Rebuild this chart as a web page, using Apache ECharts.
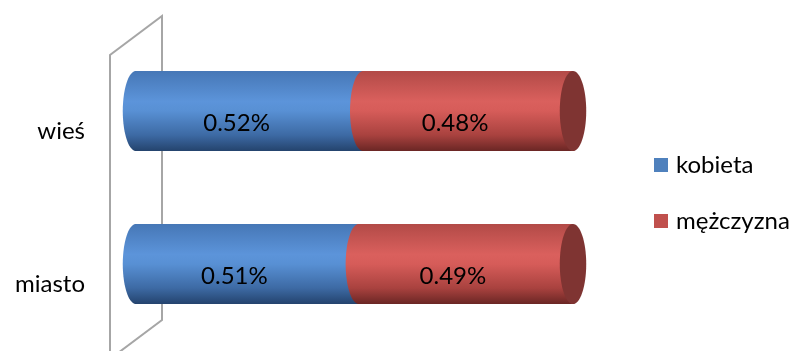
<!DOCTYPE html>
<html>
<head>
<meta charset="utf-8">
<style>
  html, body { margin: 0; padding: 0; background: #fff; }
  #chart { width: 792px; height: 351px; }
</style>
<script src="https://cdn.jsdelivr.net/npm/echarts@6/dist/echarts.min.js"></script>
</head>
<body>
<div id="chart"></div>
<script>
// Share of women and men, split by place of residence
const categories = ['miasto', 'wieś'];
const seriesNames = ['kobieta', 'mężczyzna'];
const kobieta = [0.51, 0.52];
const mezczyzna = [0.49, 0.48];

const FONT = 'Lato';

const gradients = {
  kobieta: [
    [0, '#4677b6'], [0.38, '#5c94da'], [0.5, '#5890d4'], [0.8, '#3d6aa4'], [1, '#24436d']
  ],
  'mężczyzna': [
    [0, '#b24a47'], [0.38, '#da605d'], [0.5, '#d65c59'], [0.8, '#a9423f'], [1, '#6a2624']
  ]
};
const endFace = '#7f3432';

function grad(stops) {
  return new echarts.graphic.LinearGradient(0, 0, 0, 1,
    stops.map(s => ({ offset: s[0], color: s[1] })));
}

// One cylinder segment: body from start to end with a curved front seam on the left.
// The first segment also carries the category name, set slightly low like a 3D axis label.
function makeRender(name, isFirst, isLast) {
  return function (params, api) {
    const cat = api.value(0);
    const s = api.value(1);
    const e = api.value(2);
    const p0 = api.coord([s, cat]);
    const p1 = api.coord([e, cat]);
    const band = api.size([0, 1])[1];
    const hh = band * 0.262;
    const rx = hh * 0.33;
    const cy = p0[1];
    const pts = [];
    const N = 40;
    for (let i = 0; i <= N; i++) {
      const a = Math.PI / 2 + Math.PI * i / N;
      pts.push([p0[0] + rx * Math.cos(a), cy + hh * Math.sin(a)]);
    }
    const poly = [[p1[0], cy + hh]].concat(pts, [[p1[0], cy - hh]]);
    const children = [{
      type: 'polygon',
      shape: { points: poly },
      style: { fill: grad(gradients[name]) }
    }];
    if (isLast) {
      children.push({
        type: 'ellipse',
        shape: { cx: p1[0], cy: cy, rx: rx, ry: hh },
        style: { fill: endFace }
      });
    }
    const val = e - s;
    children.push({
      type: 'text',
      x: (p0[0] + p1[0]) / 2 - 13,
      y: cy + 12,
      style: {
        text: val.toFixed(2) + '%',
        fill: '#000',
        font: '24px ' + FONT,
        align: 'center',
        verticalAlign: 'middle'
      }
    });
    if (isFirst) {
      children.push({
        type: 'text',
        x: p0[0] - 51,
        y: cy + 20,
        style: {
          text: categories[cat],
          fill: '#000',
          font: '24px ' + FONT,
          align: 'right',
          verticalAlign: 'middle'
        }
      });
    }
    return { type: 'group', children: children };
  };
}

const kData = categories.map((c, i) => [i, 0, kobieta[i]]);
const mData = categories.map((c, i) => [i, kobieta[i], kobieta[i] + mezczyzna[i]]);

const chart = echarts.init(document.getElementById('chart'), null, { renderer: 'canvas' });
chart.setOption({
  animation: false,
  backgroundColor: '#fff',
  grid: { left: 136, right: 219, top: 34.5, bottom: 10.5, containLabel: false },
  xAxis: { type: 'value', min: 0, max: 1, show: false },
  yAxis: {
    type: 'category',
    data: categories,
    axisLine: { show: false },
    axisTick: { show: false },
    splitLine: { show: false },
    axisLabel: { show: false }
  },
  legend: {
    orient: 'vertical',
    left: 649,
    top: 148,
    itemWidth: 14,
    itemHeight: 14,
    itemGap: 32,
    icon: 'rect',
    textStyle: { fontFamily: FONT, fontSize: 24, color: '#000', padding: [0, 0, 0, 3] },
    data: seriesNames
  },
  graphic: [{
    type: 'polyline',
    z: -10,
    shape: { points: [[110, 400], [110, 55], [162, 16], [162, 320], [110, 359]] },
    style: { stroke: '#a6a6a6', lineWidth: 2, fill: null }
  }],
  series: [
    {
      name: seriesNames[0], type: 'custom', itemStyle: { color: '#4f81bd' },
      renderItem: makeRender('kobieta', true, false),
      encode: { x: [1, 2], y: 0 },
      data: kData
    },
    {
      name: seriesNames[1], type: 'custom', itemStyle: { color: '#c0504d' },
      renderItem: makeRender('mężczyzna', false, true),
      encode: { x: [1, 2], y: 0 },
      data: mData
    }
  ]
});
</script>
</body>
</html>
